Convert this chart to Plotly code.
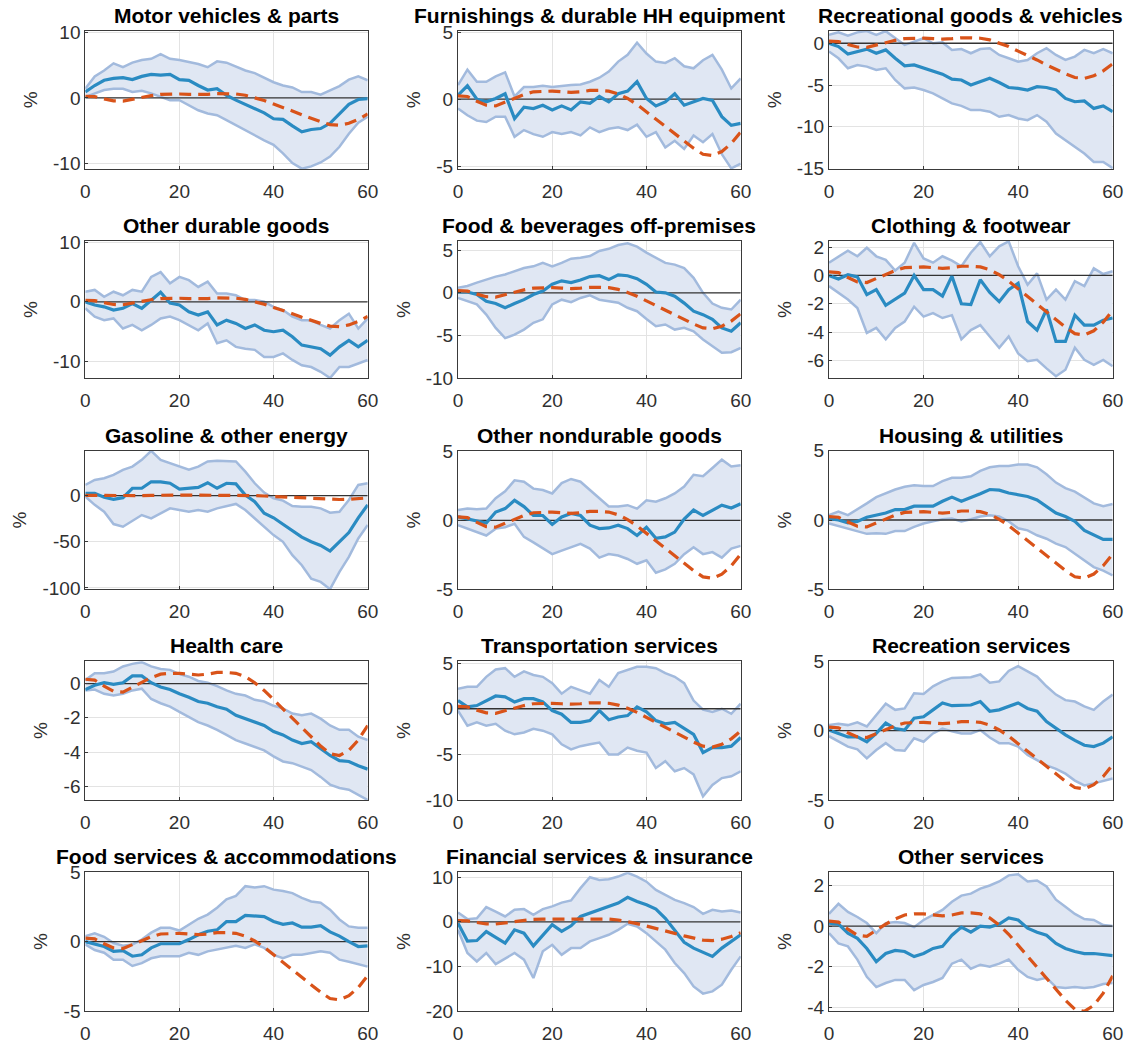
import plotly.graph_objects as go

# ---------------- data (horizon in months, response in %) ----------------
horizon = list(range(0, 61, 2))

# common reference response (orange dashed) shown in every panel
aggregate_response = [0.25, 0.2, -0.15, -0.45, -0.5, -0.2, 0.1, 0.35, 0.55, 0.6,
                      0.6, 0.55, 0.5, 0.55, 0.65, 0.65, 0.6, 0.4, 0.05, -0.4,
                      -0.95, -1.45, -2.0, -2.6, -3.15, -3.65, -4.1, -4.2, -3.9, -3.3, -2.45]

motor_mid = [0.9, 1.9, 2.7, 3.0, 3.1, 2.8, 3.3, 3.6, 3.5, 3.6, 2.8, 2.7, 1.9, 1.2, 1.4, 0.4,
             -0.35, -1.0, -1.6, -2.3, -3.2, -3.3, -4.3, -5.2, -4.85, -4.7, -3.9, -2.4, -1.0, -0.25, -0.1]
motor_hi = [1.4, 3.3, 4.2, 5.3, 4.7, 5.4, 5.8, 6.0, 6.7, 6.0, 5.8, 5.5, 5.2, 4.7, 5.6, 5.4,
            4.8, 4.2, 3.8, 3.1, 2.4, 1.9, 1.6, 0.9, 0.9, 0.5, 1.1, 1.8, 2.8, 3.3, 2.7]
motor_lo = [0.15, 0.7, 1.2, 1.4, 1.4, 0.9, 1.1, 0.7, 0.15, -0.35, -0.35, -1.1, -1.9, -2.4, -2.65, -3.4,
            -4.2, -4.9, -5.7, -6.5, -7.2, -8.5, -10.0, -10.85, -10.5, -9.9, -9.0, -7.5, -5.5, -3.8, -2.9]

furnish_mid = [0.3, 1.0, 0.0, -0.2, 0.05, 0.4, -1.45, -0.6, -0.7, -0.45, -0.8, -0.5, -0.8, -0.2, -0.3, 0.2,
               -0.2, 0.4, 0.6, 1.3, 0.05, -0.5, -0.2, 0.4, -0.45, -0.2, 0.05, -0.1, -1.3, -1.95, -1.8]
furnish_hi = [1.05, 2.2, 1.3, 1.3, 1.7, 2.0, 0.2, 0.9, 0.9, 1.0, 0.9, 1.0, 1.05, 1.1, 1.3, 1.6,
              2.05, 2.8, 3.3, 4.2, 3.4, 2.8, 2.7, 3.05, 2.45, 2.3, 2.9, 3.3, 2.2, 0.8, 1.55]
furnish_lo = [-0.7, -1.2, -1.6, -1.7, -1.3, -1.3, -2.8, -2.3, -2.6, -2.8, -2.45, -2.6, -2.45, -2.7, -2.1, -2.45,
              -2.2, -2.1, -2.3, -1.9, -2.8, -2.45, -3.6, -3.1, -3.7, -2.7, -3.2, -2.6, -4.1, -5.15, -4.8]

recgoods_mid = [0.0, -0.4, -1.3, -1.0, -0.7, -1.2, -0.8, -1.8, -2.7, -2.6, -3.0, -3.4, -3.7, -4.3, -4.4, -5.0,
                -4.6, -4.2, -4.7, -5.3, -5.4, -5.6, -5.2, -5.3, -5.6, -6.6, -7.0, -6.9, -7.8, -7.5, -8.2]
recgoods_hi = [1.0, 1.3, 0.9, 1.3, 1.45, 1.0, 1.45, 0.6, -0.2, 0.2, 0.6, 0.0, 0.1, -0.8, -0.7, -1.2,
               -0.7, -0.6, -1.4, -1.8, -2.2, -2.0, -1.2, -0.6, -1.4, -2.0, -1.6, -0.8, -1.2, -0.7, -1.2]
recgoods_lo = [-1.0, -1.8, -3.0, -2.6, -2.8, -3.2, -3.0, -4.4, -5.4, -5.3, -5.6, -6.0, -6.6, -7.2, -7.5, -8.0,
               -8.0, -8.2, -8.8, -8.6, -9.0, -9.2, -8.6, -9.4, -10.8, -11.6, -12.4, -13.2, -14.2, -14.2, -14.95]

othdur_mid = [0.0, -0.55, -0.85, -1.4, -1.1, -0.3, -1.1, 0.3, 1.6, -0.2, -0.55, -1.7, -2.25, -1.7, -3.9, -3.1,
              -3.65, -4.5, -3.9, -4.8, -5.05, -4.8, -5.9, -7.3, -7.6, -7.9, -9.0, -7.6, -6.5, -7.6, -6.5]
othdur_hi = [1.7, 2.0, 0.85, 1.7, 1.1, 2.0, 1.7, 4.2, 5.0, 3.1, 4.2, 3.65, 2.5, 3.4, 1.4, 1.4,
             1.1, 0.3, 0.3, 0.0, -0.85, -1.4, -2.5, -3.1, -3.1, -3.9, -4.5, -3.1, -2.0, -4.5, -2.8]
othdur_lo = [-1.1, -2.5, -3.1, -2.8, -4.5, -3.9, -4.8, -3.9, -2.8, -2.5, -3.1, -3.9, -4.8, -3.65, -7.0, -6.5,
             -7.6, -7.9, -8.1, -9.3, -9.3, -8.7, -9.8, -10.7, -11.0, -11.8, -12.85, -11.0, -11.0, -10.4, -9.8]

foodbev_mid = [0.1, 0.1, -0.2, -1.0, -1.25, -1.75, -1.25, -0.8, -0.2, 0.2, 1.0, 1.4, 1.2, 1.5, 1.9, 2.0,
               1.55, 2.1, 2.0, 1.65, 1.0, 0.1, 0.0, -0.4, -1.2, -2.15, -2.55, -3.1, -4.1, -4.5, -3.5]
foodbev_hi = [0.6, 0.8, 1.2, 1.55, 1.9, 2.15, 2.55, 2.9, 3.1, 3.5, 3.1, 3.5, 4.0, 4.1, 4.3, 4.9,
              5.15, 5.6, 5.8, 5.4, 4.7, 4.1, 3.5, 3.3, 2.9, 1.75, 0.0, -1.25, -1.75, -1.95, -0.8]
foodbev_lo = [-0.6, -1.0, -1.35, -2.55, -4.1, -5.3, -4.9, -4.3, -3.5, -3.1, -1.35, -0.8, -1.1, -0.6, -0.3, -0.8,
              -1.0, -1.15, -1.75, -2.15, -3.05, -3.9, -3.7, -4.3, -4.1, -4.5, -5.45, -6.25, -7.0, -6.95, -6.45]

cloth_mid = [0.0, -0.25, 0.05, -0.1, -1.35, -1.0, -2.1, -1.7, -1.25, 0.0, -1.0, -1.0, -1.45, -0.05, -2.0, -2.05,
             -0.3, -1.2, -1.85, -1.0, -0.55, -3.25, -3.85, -2.4, -4.65, -4.65, -2.8, -3.5, -3.5, -3.15, -3.0]
cloth_hi = [0.9, 1.35, 1.75, 1.35, 1.95, 1.35, 1.1, 0.35, 0.9, 2.3, 1.2, 0.9, 1.35, 1.05, 0.65, 1.6,
            2.35, 1.35, 2.05, 2.4, 0.65, -0.65, 0.15, -1.7, -1.0, -1.7, -0.4, -0.75, 0.5, 0.1, 0.3]
cloth_lo = [-0.75, -1.25, -1.7, -2.3, -4.05, -3.7, -4.5, -3.7, -3.25, -2.2, -2.9, -2.65, -3.0, -2.8, -4.5, -3.85,
            -3.5, -4.3, -5.1, -4.3, -5.5, -6.05, -5.95, -6.55, -7.1, -6.65, -5.1, -5.95, -6.3, -5.95, -6.4]

gas_mid = [2.5, 2.5, -1.8, -4.0, -2.2, 8.0, 8.0, 15.0, 15.0, 13.4, 7.0, 8.0, 9.0, 14.0, 8.0, 13.4,
           12.7, 0.7, -6.5, -19.0, -24.0, -31.0, -38.0, -45.0, -50.0, -54.0, -60.0, -50.0, -40.0, -24.0, -10.0]
gas_hi = [11.6, 17.0, 18.8, 22.5, 28.0, 31.5, 38.8, 48.5, 38.8, 35.0, 31.5, 28.0, 31.5, 37.0, 37.7, 37.0,
          37.0, 26.0, 13.4, 3.3, -2.9, -5.4, -11.2, -12.0, -12.0, -13.8, -18.5, -17.4, -4.7, 11.6, 13.4]
gas_lo = [-1.0, -10.0, -17.4, -30.8, -33.7, -27.0, -21.0, -24.6, -19.2, -13.8, -15.6, -17.4, -15.6, -17.4, -13.8, -11.2,
          -9.0, -15.6, -24.6, -33.7, -42.8, -50.0, -64.5, -75.4, -89.9, -93.5, -101.3, -82.6, -66.3, -46.4, -31.9]

othnd_mid = [0.25, 0.1, 0.0, -0.2, 0.6, 0.85, 1.45, 1.0, 0.35, 0.35, -0.3, 0.25, 0.5, 0.35, -0.35, -0.6,
             -0.55, -0.35, -0.6, -1.1, -0.5, -1.3, -1.2, -0.85, 0.1, 0.75, 0.35, 0.75, 1.1, 0.9, 1.2]
othnd_hi = [0.75, 0.85, 0.8, 0.85, 1.6, 2.1, 2.9, 2.8, 2.3, 2.2, 1.95, 2.7, 3.0, 2.8, 2.2, 1.6,
            1.0, 1.0, 1.1, 0.85, 1.45, 1.35, 1.6, 1.95, 2.45, 3.3, 3.2, 3.8, 4.4, 3.9, 4.0]
othnd_lo = [-0.35, -0.6, -0.85, -1.1, -0.6, -0.5, -0.25, -1.2, -1.6, -2.05, -2.45, -2.2, -1.95, -1.7, -2.05, -2.7,
            -2.45, -2.55, -2.8, -3.15, -2.9, -3.8, -3.55, -3.15, -2.45, -1.95, -2.45, -2.3, -2.7, -2.05, -1.85]

housing_mid = [0.1, 0.0, -0.2, -0.1, 0.2, 0.35, 0.5, 0.75, 0.75, 1.0, 1.0, 1.0, 1.35, 1.65, 1.35, 1.6,
               1.9, 2.2, 2.15, 1.95, 1.85, 1.7, 1.45, 1.0, 0.5, 0.25, -0.1, -0.75, -1.1, -1.4, -1.4]
housing_hi = [0.35, 0.6, 0.35, 0.75, 1.2, 1.65, 1.95, 2.2, 2.4, 2.5, 2.45, 2.45, 2.8, 3.05, 3.05, 3.15,
              3.55, 3.8, 3.9, 3.9, 4.0, 4.0, 3.8, 3.3, 2.7, 2.3, 2.05, 1.6, 1.2, 1.0, 1.15]
housing_lo = [-0.25, -0.45, -0.6, -0.85, -1.0, -0.95, -1.0, -0.8, -0.8, -0.5, -0.25, -0.1, 0.05, 0.1, -0.1, 0.05,
              0.25, 0.35, 0.25, -0.1, -0.6, -0.75, -1.1, -1.35, -1.7, -1.95, -2.45, -2.95, -3.4, -3.65, -4.0]

health_mid = [-0.35, -0.1, 0.05, -0.05, 0.05, 0.45, 0.45, 0.05, -0.2, -0.35, -0.6, -0.8, -1.05, -1.15, -1.35, -1.5,
              -1.85, -2.05, -2.25, -2.45, -2.8, -3.0, -3.3, -3.5, -3.4, -3.8, -4.2, -4.5, -4.55, -4.8, -5.0]
health_hi = [0.2, 0.6, 0.6, 0.7, 1.0, 1.15, 1.25, 1.0, 0.85, 0.8, 0.55, 0.4, 0.15, 0.05, -0.15, -0.4,
             -0.6, -0.7, -0.95, -1.05, -1.3, -1.45, -1.75, -1.85, -1.75, -2.05, -2.45, -2.7, -2.7, -3.1, -3.3]
health_lo = [-0.4, -0.35, -0.6, -0.7, -0.6, -0.4, -0.3, -0.9, -1.15, -1.35, -1.65, -1.95, -2.25, -2.45, -2.7, -3.0,
             -3.3, -3.5, -3.7, -3.9, -4.25, -4.55, -4.65, -4.85, -5.05, -5.45, -5.9, -6.1, -6.2, -6.5, -6.8]

transp_mid = [0.9, 0.2, 0.35, 0.9, 1.4, 1.3, 0.75, 1.1, 1.1, 0.75, -0.2, -0.6, -1.5, -1.5, -1.3, -0.2,
              -1.2, -0.9, -0.75, 0.2, -0.35, -1.3, -1.65, -1.5, -2.2, -2.8, -4.8, -4.25, -4.25, -4.1, -3.15]
transp_hi = [2.2, 2.4, 2.4, 3.5, 4.3, 4.45, 3.5, 4.1, 3.7, 3.5, 2.8, 1.65, 2.4, 2.0, 1.65, 3.15,
             2.4, 3.9, 4.25, 4.6, 4.6, 4.45, 3.9, 3.5, 2.8, 0.9, -0.1, -0.35, 0.0, -0.55, 0.55]
transp_lo = [-0.2, -1.85, -1.5, -1.85, -1.65, -2.4, -2.8, -2.6, -2.2, -2.4, -2.8, -3.9, -4.45, -4.1, -3.9, -3.7,
             -5.0, -5.0, -4.25, -4.6, -4.8, -6.5, -5.75, -6.85, -6.5, -7.2, -9.6, -8.35, -7.6, -7.4, -6.85]

recserv_mid = [0.05, -0.2, -0.45, -0.45, -0.8, -0.2, 0.55, 0.15, 0.05, 0.9, 1.0, 1.5, 2.0, 1.8, 1.85, 1.85,
               2.1, 1.4, 1.5, 1.75, 2.0, 1.6, 1.4, 0.65, 0.15, -0.3, -0.7, -1.05, -1.15, -0.9, -0.45]
recserv_hi = [0.4, 0.5, 0.4, 0.6, 0.3, 1.15, 1.95, 1.5, 1.6, 2.7, 2.65, 3.2, 3.55, 3.8, 3.8, 3.85,
              4.05, 3.45, 3.55, 4.3, 4.65, 4.3, 3.9, 3.2, 2.6, 2.2, 2.1, 1.75, 1.5, 2.1, 2.6]
recserv_lo = [-0.4, -0.8, -1.15, -1.35, -2.0, -1.4, -0.9, -1.4, -1.45, -0.55, -0.8, -0.2, 0.15, -0.05, -0.2, -0.2,
              0.05, -0.5, -0.9, -0.9, -1.15, -1.75, -2.1, -2.5, -2.75, -3.1, -3.6, -3.95, -3.8, -3.6, -3.45]

foodserv_mid = [0.0, -0.2, -0.35, -0.7, -0.65, -1.05, -0.95, -0.45, -0.15, -0.15, -0.15, 0.15, 0.5, 0.75, 0.85, 1.45,
                1.45, 1.9, 1.85, 1.8, 1.45, 1.25, 1.35, 1.05, 1.05, 1.15, 0.7, 0.4, 0.0, -0.35, -0.3]
foodserv_hi = [0.4, 0.6, 0.35, -0.1, -0.3, -0.2, 0.15, 0.65, 1.0, 1.0, 0.8, 1.25, 1.65, 1.95, 2.45, 3.05,
               3.3, 4.0, 3.9, 4.0, 3.75, 3.65, 3.5, 3.15, 2.9, 2.8, 2.3, 1.6, 1.1, 1.0, 1.0]
foodserv_lo = [-0.2, -0.6, -0.8, -1.3, -1.3, -1.75, -1.55, -1.2, -1.05, -1.05, -1.05, -0.8, -0.95, -0.7, -0.55, -0.45,
               -0.3, -0.45, -0.2, -0.45, -0.95, -1.2, -0.95, -0.95, -0.8, -0.7, -0.8, -1.3, -1.45, -1.6, -1.8]

fin_mid = [-0.3, -4.3, -4.2, -2.2, -3.5, -4.8, -1.8, -2.55, -5.4, -2.9, -0.65, -2.15, -0.9, 1.2, 1.95, 2.85,
           3.45, 4.2, 5.5, 4.55, 3.8, 2.85, 0.8, -1.8, -4.6, -5.9, -6.85, -7.75, -5.9, -4.4, -2.9]
fin_hi = [2.1, 0.6, 0.8, 3.3, 2.3, 1.2, 2.7, 2.85, 1.55, 2.85, 3.45, 4.3, 4.8, 7.55, 10.0, 9.4,
          9.55, 10.15, 11.0, 10.15, 9.0, 7.15, 6.05, 4.9, 4.2, 3.3, 1.8, 2.7, 2.3, 2.55, 2.1]
fin_lo = [-1.8, -7.0, -8.9, -7.0, -9.5, -8.15, -7.0, -8.5, -12.6, -6.6, -5.15, -7.4, -5.9, -5.9, -4.4, -3.65,
          -2.9, -1.8, -0.45, -1.05, -2.55, -4.4, -6.25, -9.25, -11.5, -14.5, -16.1, -15.6, -14.1, -10.75, -7.75]

othserv_mid = [0.15, 0.1, -0.35, -0.6, -1.1, -1.75, -1.35, -1.2, -1.25, -1.5, -1.35, -1.1, -1.0, -0.45, -0.05, -0.3,
               0.0, -0.05, 0.1, 0.4, 0.3, -0.1, -0.3, -0.45, -0.85, -1.1, -1.25, -1.35, -1.35, -1.4, -1.45]
othserv_hi = [0.6, 1.1, 0.7, 0.45, 0.15, -0.35, 0.15, 0.2, 0.15, -0.05, 0.3, 0.55, 0.8, 1.2, 1.5, 1.6,
              1.85, 2.0, 2.2, 2.5, 2.55, 2.2, 2.25, 1.95, 1.3, 0.95, 0.6, 0.35, 0.3, 0.05, 0.0]
othserv_lo = [-0.35, -0.85, -1.0, -1.65, -2.5, -3.0, -2.8, -2.65, -2.65, -3.15, -2.9, -2.75, -2.55, -1.85, -1.65, -2.1,
              -1.9, -2.0, -1.85, -1.65, -2.15, -2.5, -2.65, -2.55, -3.0, -3.05, -3.0, -3.05, -3.0, -2.85, -2.8]

titles = ["Motor vehicles & parts", "Furnishings & durable HH equipment", "Recreational goods & vehicles",
          "Other durable goods", "Food & beverages off-premises", "Clothing & footwear",
          "Gasoline & other energy", "Other nondurable goods", "Housing & utilities",
          "Health care", "Transportation services", "Recreation services",
          "Food services & accommodations", "Financial services & insurance", "Other services"]
series = [(motor_lo, motor_mid, motor_hi), (furnish_lo, furnish_mid, furnish_hi),
          (recgoods_lo, recgoods_mid, recgoods_hi), (othdur_lo, othdur_mid, othdur_hi),
          (foodbev_lo, foodbev_mid, foodbev_hi), (cloth_lo, cloth_mid, cloth_hi),
          (gas_lo, gas_mid, gas_hi), (othnd_lo, othnd_mid, othnd_hi),
          (housing_lo, housing_mid, housing_hi), (health_lo, health_mid, health_hi),
          (transp_lo, transp_mid, transp_hi), (recserv_lo, recserv_mid, recserv_hi),
          (foodserv_lo, foodserv_mid, foodserv_hi), (fin_lo, fin_mid, fin_hi),
          (othserv_lo, othserv_mid, othserv_hi)]
y_tick_values = [[-10, 0, 10], [-5, 0, 5], [-15, -10, -5, 0],
                 [-10, 0, 10], [-10, -5, 0, 5], [-6, -4, -2, 0, 2],
                 [-100, -50, 0], [-5, 0, 5], [-5, 0, 5],
                 [-6, -4, -2, 0], [-10, -5, 0, 5], [-5, 0, 5],
                 [-5, 0, 5], [-20, -10, 0, 10], [-4, -2, 0, 2]]
x_tick_values = [0, 20, 40, 60]

# ---------------- layout geometry / style ----------------
W, H = 1132, 1044
y_limits = [(-10.9, 10.3), (-5.2, 5.1), (-15.05, 1.5),
            (-12.9, 10.3), (-10, 6.1), (-7.25, 2.45),
            (-101.5, 48.7), (-5, 5.05), (-5, 5),
            (-6.8, 1.3), (-10, 5.2), (-5, 5),
            (-5, 5), (-20, 11.1), (-4.18, 2.65)]
col_px = [(85.3, 367.7), (458.0, 740.7), (829.0, 1112.7)]
row_px = [(30.7, 169.0), (240.7, 378.3), (450.7, 589.3), (661.3, 800.0), (872.3, 1011.0)]

FONT = "Liberation Sans, Arial, sans-serif"
TXT = "#303030"
BAND_FILL = "#e0e7f3"
BAND_EDGE = "#a2badd"
BLUE = "#2a8bc2"
ORANGE = "#d95319"

fig = go.Figure()
annotations = []
layout_axes = {}

for i, (title, (lo, mid, hi)) in enumerate(zip(titles, series)):
    r, c = divmod(i, 3)
    sfx = "" if i == 0 else str(i + 1)
    xa, ya = "x" + sfx, "y" + sfx
    xd = [col_px[c][0] / W, col_px[c][1] / W]
    yd = [1 - row_px[r][1] / H, 1 - row_px[r][0] / H]

    # confidence band
    fig.add_trace(go.Scatter(x=horizon + horizon[::-1], y=hi + lo[::-1], fill="toself",
                             fillcolor=BAND_FILL, line=dict(width=0), mode="lines",
                             hoverinfo="skip", xaxis=xa, yaxis=ya, showlegend=False))
    for edge in (hi, lo):
        fig.add_trace(go.Scatter(x=horizon, y=edge, mode="lines",
                                 line=dict(color=BAND_EDGE, width=2.5),
                                 xaxis=xa, yaxis=ya, showlegend=False))
    # zero line
    fig.add_trace(go.Scatter(x=[horizon[0], horizon[-1]], y=[0, 0], mode="lines",
                             line=dict(color="#333333", width=1.3),
                             xaxis=xa, yaxis=ya, showlegend=False, hoverinfo="skip"))
    fig.add_trace(go.Scatter(x=horizon, y=mid, mode="lines",
                             line=dict(color=BLUE, width=3.2),
                             xaxis=xa, yaxis=ya, showlegend=False))
    fig.add_trace(go.Scatter(x=horizon, y=aggregate_response, mode="lines",
                             line=dict(color=ORANGE, width=3.2, dash="12px,7px"),
                             xaxis=xa, yaxis=ya, showlegend=False))

    axis_common = dict(showline=True, mirror=True, linecolor="#3a3a3a", linewidth=1,
                       showgrid=True, gridcolor="#e3e3e3", gridwidth=1, automargin=False,
                       zeroline=False, ticks="inside", ticklen=3, tickcolor="#3a3a3a",
                       tickfont=dict(family=FONT, size=19, color=TXT))
    layout_axes["xaxis" + sfx] = dict(domain=xd, anchor=ya, range=[0, 60],
                                      tickvals=x_tick_values,
                                      ticktext=[f"{v:g}" for v in x_tick_values],
                                      ticklabelstandoff=5, **axis_common)
    layout_axes["yaxis" + sfx] = dict(domain=yd, anchor=xa, range=list(y_limits[i]),
                                      tickvals=y_tick_values[i],
                                      ticktext=[f"{v:g}" for v in y_tick_values[i]],
                                      title=dict(text="%", standoff=10,
                                                 font=dict(family=FONT, size=19, color=TXT)),
                                      **axis_common)
    annotations.append(dict(text="<b>" + title + "</b>", x=(xd[0] + xd[1]) / 2, y=yd[1],
                            xref="paper", yref="paper", xanchor="center", yanchor="bottom",
                            yshift=2, showarrow=False,
                            font=dict(family=FONT, size=21, color="#000000")))

fig.update_layout(width=W, height=H, margin=dict(l=0, r=0, t=0, b=0, autoexpand=False),
                  paper_bgcolor="white", plot_bgcolor="white", showlegend=False,
                  annotations=annotations, **layout_axes)

fig.write_html("out.html")
